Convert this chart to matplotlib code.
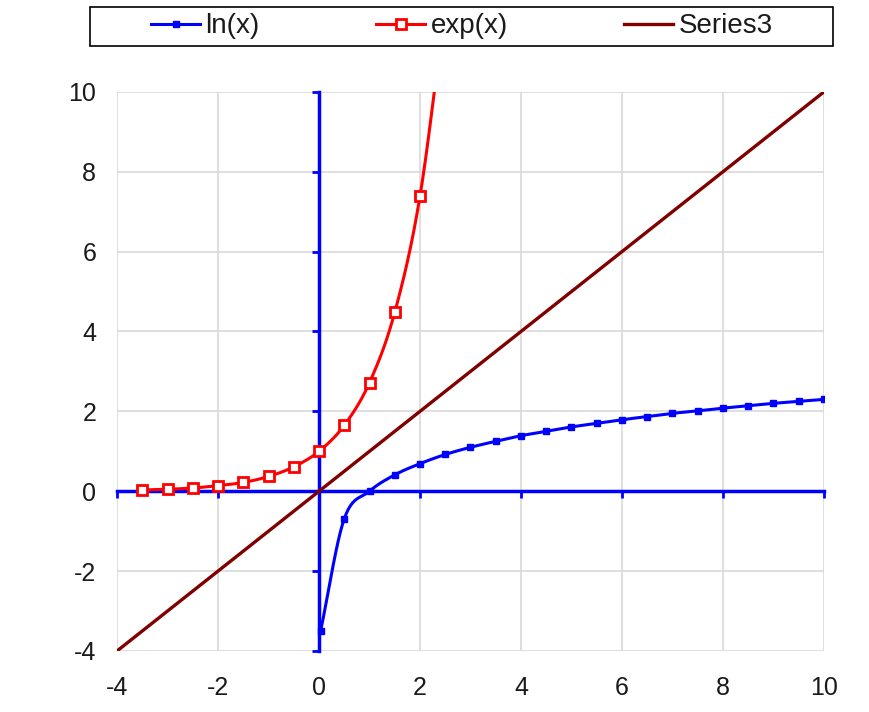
import numpy as np
import matplotlib
matplotlib.use("Agg")
import matplotlib.pyplot as plt
from matplotlib.patches import Rectangle

plt.rcParams["font.family"] = ["Liberation Sans", "DejaVu Sans"]
plt.rcParams["axes.unicode_minus"] = False

# ── data ───────────────────────────────────────────────────
ln_x = [0.03, 0.5, 1, 1.5, 2, 2.5, 3, 3.5, 4, 4.5, 5, 5.5, 6, 6.5, 7,
        7.5, 8, 8.5, 9, 9.5, 10]
ln_y = [-3.51, -0.69, 0.0, 0.41, 0.69, 0.92, 1.10, 1.25, 1.39, 1.50, 1.61,
        1.70, 1.79, 1.87, 1.95, 2.01, 2.08, 2.14, 2.20, 2.25, 2.30]

exp_x = [-3.5, -3, -2.5, -2, -1.5, -1, -0.5, 0, 0.5, 1, 1.5, 2, 2.5]
exp_y = [0.03, 0.05, 0.08, 0.14, 0.22, 0.37, 0.61, 1.0, 1.65, 2.72, 4.48,
         7.39, 12.18]

s3_x = [-4, -2, 0, 2, 4, 6, 8, 10]
s3_y = [-4, -2, 0, 2, 4, 6, 8, 10]

ticks = [-4, -2, 0, 2, 4, 6, 8, 10]

BLUE = "#0000ff"
RED = "#ff0000"
MAROON = "#800000"


def smooth(xs, ys, n=24):
    # Catmull-Rom rendering of Excel's "smoothed line" option
    p = np.column_stack([xs, ys]).astype(float)
    p = np.vstack([p[0] - (p[1] - p[0]), p, p[-1] + (p[-1] - p[-2])])
    out = []
    t = np.linspace(0, 1, n, endpoint=False)[:, None]
    for i in range(1, len(p) - 2):
        p0, p1, p2, p3 = p[i - 1], p[i], p[i + 1], p[i + 2]
        seg = 0.5 * ((2 * p1) + (-p0 + p2) * t
                     + (2 * p0 - 5 * p1 + 4 * p2 - p3) * t ** 2
                     + (-p0 + 3 * p1 - 3 * p2 + p3) * t ** 3)
        out.append(seg)
    out.append(p[-2][None, :])
    out = np.vstack(out)
    return out[:, 0], out[:, 1]


fig = plt.figure(figsize=(8.7, 7.12), dpi=100)
ax = fig.add_axes([0.1345, 0.0857, 0.8126, 0.7853])

ax.set_xlim(-4, 10)
ax.set_ylim(-4, 10)
ax.set_xticks(ticks)
ax.set_yticks(ticks)
ax.grid(True, color="#d9d9d9", linewidth=1.2, zorder=0)
ax.set_axisbelow(True)

for s in ["top", "right"]:
    ax.spines[s].set_visible(False)
ax.spines["left"].set_position(("data", 0))
ax.spines["bottom"].set_position(("data", 0))
for s in ["left", "bottom"]:
    ax.spines[s].set_color(BLUE)
    ax.spines[s].set_linewidth(2.5)
ax.tick_params(direction="out", length=5, width=2, color=BLUE,
               labelleft=False, labelbottom=False)

# tick labels sit at the outer edge, Excel style
sy = ax.secondary_yaxis(0)
sx = ax.secondary_xaxis(0)
for sec in (sy, sx):
    for sp in sec.spines.values():
        sp.set_visible(False)
    sec.tick_params(length=0, labelsize=18, colors="#1a1a1a")
sy.tick_params(pad=15)
sx.tick_params(pad=18)
sy.set_yticks(ticks)
sx.set_xticks(ticks)

# series
lx, ly = smooth(ln_x, ln_y)
ax.plot(lx, ly, color=BLUE, lw=2.2, zorder=3)
ax.plot(ln_x, ln_y, ls="none", marker="s", ms=5, color=BLUE, zorder=4)

ex, ey = smooth(exp_x, exp_y)
ax.plot(ex, ey, color=RED, lw=2.2, zorder=3)
ax.plot(exp_x[:-1], exp_y[:-1], ls="none", marker="s", ms=7.5,
        mfc="white", mec=RED, mew=2, zorder=4)

ax.plot(s3_x, s3_y, color=MAROON, lw=2.4, zorder=3)

# legend
h1, = ax.plot([], [], color=BLUE, lw=2.2, marker="s", ms=5)
h2, = ax.plot([], [], color=RED, lw=2.2, marker="s", ms=7, mfc="white", mew=2)
h3, = ax.plot([], [], color=MAROON, lw=2.4)
fig.legend([h1, h2, h3], ["ln(x)", "exp(x)", "Series3"], ncol=3,
           loc="center", bbox_to_anchor=(0.531, 0.963), frameon=False,
           fontsize=20, handlelength=1.75, handletextpad=0.2,
           columnspacing=4.2, labelcolor="#1a1a1a")
fig.patches.append(Rectangle((0.1034, 0.935), 0.854, 0.0548,
                             transform=fig.transFigure, fill=False,
                             edgecolor="black", linewidth=1.2))

fig.savefig("out.png", dpi=100)
